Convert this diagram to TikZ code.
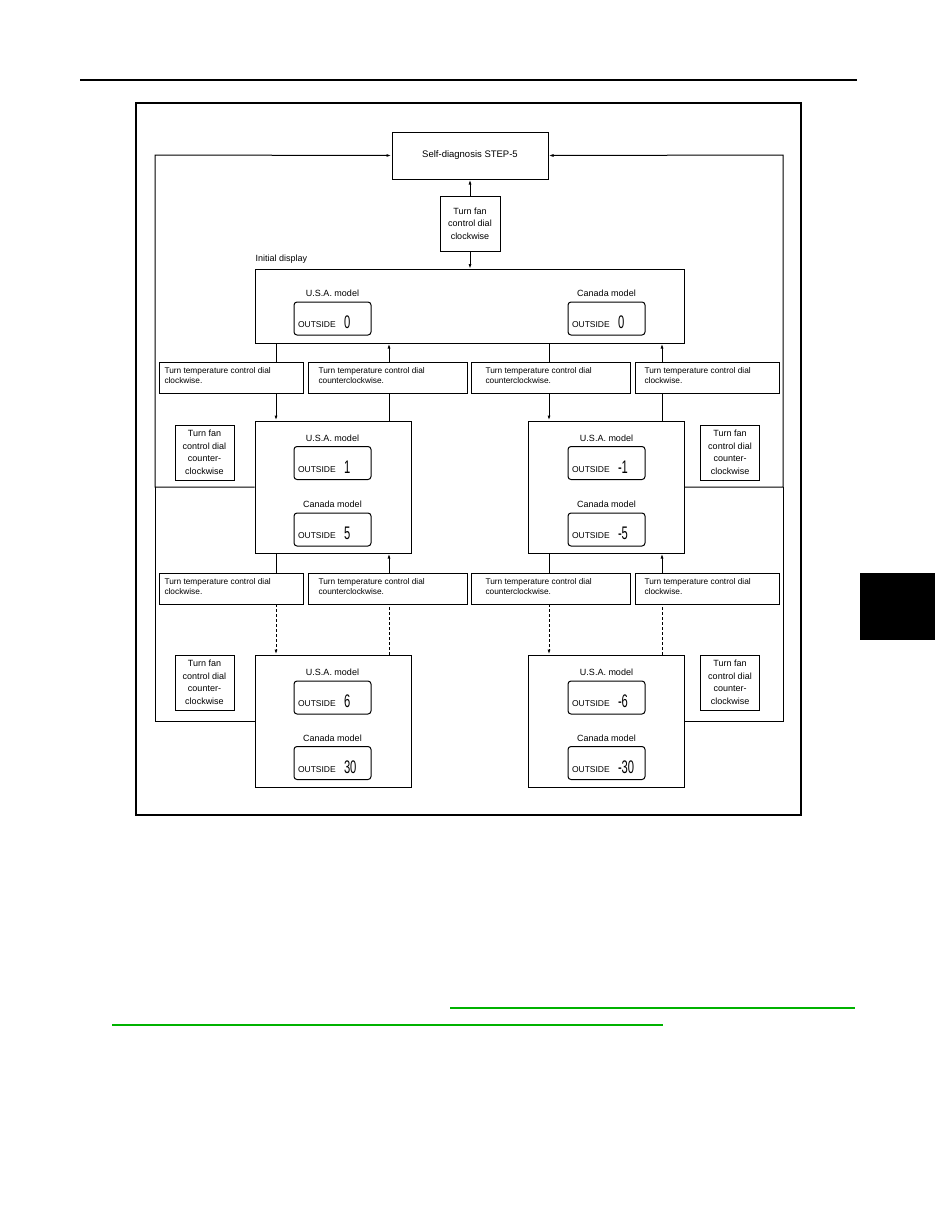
\documentclass[tikz,border=0pt]{standalone}
\usepackage{fontspec}
\setmainfont{Liberation Sans}
\usetikzlibrary{arrows.meta}
\begin{document}
\begin{tikzpicture}[x=1pt,y=-1pt,line width=1pt,
  box/.style={draw,rectangle,inner sep=0pt},
  lbl/.style={font=\fontsize{8.3}{10.5}\selectfont,align=left,anchor=north west,inner sep=0pt},
  lab/.style={font=\fontsize{9}{10}\selectfont,inner sep=0pt},
  fan/.style={draw,font=\fontsize{9}{12.5}\selectfont,align=center,inner sep=0pt,minimum width=59pt,minimum height=55pt},
  disp/.style={draw,rounded corners=3pt,minimum width=77pt,minimum height=33pt,inner sep=0pt},
  arr/.style={-{Latex[length=5pt,width=3pt]}},
  ds/.style={dash pattern=on 3pt off 2pt}]
\useasboundingbox (0,0) rectangle (935,1210);
\draw[line width=2pt] (80,80) -- (857,80);
\fill (860,573) rectangle (935,640);
\draw[green!70!black,line width=1.2pt] (450,1008) -- (855,1008);
\draw[green!70!black,line width=1.2pt] (112,1025) -- (663,1025);
\draw[line width=1.3pt] (136,103) rectangle (801,815);
% top
\node[box,minimum width=156pt,minimum height=47pt,font=\fontsize{9.5}{11}\selectfont] (sd) at (470,155.5) {Self-diagnosis STEP-5};
\node[fan,minimum width=60pt] (fcw) at (470,223.5) {Turn fan\\control dial\\clockwise};
\draw[arr] (fcw.north) -- (sd.south);
\draw[arr] (fcw.south) -- (470,269);
\node[anchor=south west,inner sep=0pt,font=\fontsize{9}{10}\selectfont] at (255,264) {Initial display};
\node[box,minimum width=429pt,minimum height=74pt] (init) at (469.5,306) {};
\newcommand{\dsp}[4]{%
  \node[lab] at (#1,#2-25) {#3};
  \node[disp] at (#1,#2) {};
  \node[anchor=base west,inner sep=0pt,font=\fontsize{8.5}{9}\selectfont] at (#1-35,#2+9) {OUTSIDE};
  \node[anchor=base west,inner sep=0pt] at (#1+11,#2+10) {\scalebox{0.8}[1.3]{\fontsize{14}{14}\selectfont #4}};}
\dsp{332.5}{318.5}{U.S.A. model}{0}
\dsp{606.5}{318.5}{Canada model}{0}
% label rows
\newcommand{\lrow}[2]{%
  \node[box,minimum width=144pt,minimum height=31pt] (a#1) at (231,#2) {};
  \node[box,minimum width=159pt,minimum height=31pt] (b#1) at (387.5,#2) {};
  \node[box,minimum width=159pt,minimum height=31pt] (c#1) at (550.5,#2) {};
  \node[box,minimum width=144pt,minimum height=31pt] (d#1) at (707,#2) {};
  \node[lbl] at (164,#2-11) {Turn temperature control dial\\clockwise.};
  \node[lbl] at (318,#2-11) {Turn temperature control dial\\counterclockwise.};
  \node[lbl] at (485,#2-11) {Turn temperature control dial\\counterclockwise.};
  \node[lbl] at (644,#2-11) {Turn temperature control dial\\clockwise.};}
\lrow{1}{377.5}
\lrow{2}{588.5}
% state boxes
\node[box,minimum width=156pt,minimum height=132pt] (ml) at (333,487) {};
\node[box,minimum width=156pt,minimum height=132pt] (mr) at (606,487) {};
\node[box,minimum width=156pt,minimum height=132pt] (bl) at (333,721) {};
\node[box,minimum width=156pt,minimum height=132pt] (br) at (606,721) {};
\dsp{332.5}{463}{U.S.A. model}{1}
\dsp{332.5}{529.5}{Canada model}{5}
\dsp{606.5}{463}{U.S.A. model}{-1}
\dsp{606.5}{529.5}{Canada model}{-5}
\dsp{332.5}{697.5}{U.S.A. model}{6}
\dsp{332.5}{763}{Canada model}{30}
\dsp{606.5}{697.5}{U.S.A. model}{-6}
\dsp{606.5}{763}{Canada model}{-30}
% fan ccw
\node[fan] (f1) at (204.5,452.5) {Turn fan\\control dial\\counter-\\clockwise};
\node[fan] (f2) at (730,452.5) {Turn fan\\control dial\\counter-\\clockwise};
\node[fan] (f3) at (204.5,682.5) {Turn fan\\control dial\\counter-\\clockwise};
\node[fan] (f4) at (730,682.5) {Turn fan\\control dial\\counter-\\clockwise};
% loops
\draw[arr] (ml.west) -- (155,487) -- (155,155) -- (sd.west);
\draw[arr] (mr.east) -- (783,487) -- (783,155) -- (sd.east);
\draw (155,487) -- (155,721) -- (bl.west);
\draw (783,487) -- (783,721) -- (br.east);
% row1 connections
\draw (276,343) -- (276,362); \draw[arr] (276,393) -- (ml.north-|276,0);
\draw[arr] (389,362) -- (init.south-|389,0); \draw (389,421) -- (389,393);
\draw (549,343) -- (549,362); \draw[arr] (549,393) -- (mr.north-|549,0);
\draw[arr] (662,362) -- (init.south-|662,0); \draw (662,421) -- (662,393);
% row2 connections
\draw (276,553) -- (276,573); \draw[arr,ds] (276,604) -- (bl.north-|276,0);
\draw[arr] (389,573) -- (ml.south-|389,0); \draw[ds] (389,655) -- (389,604);
\draw (549,553) -- (549,573); \draw[arr,ds] (549,604) -- (br.north-|549,0);
\draw[arr] (662,573) -- (mr.south-|662,0); \draw[ds] (662,655) -- (662,604);
\end{tikzpicture}
\end{document}
